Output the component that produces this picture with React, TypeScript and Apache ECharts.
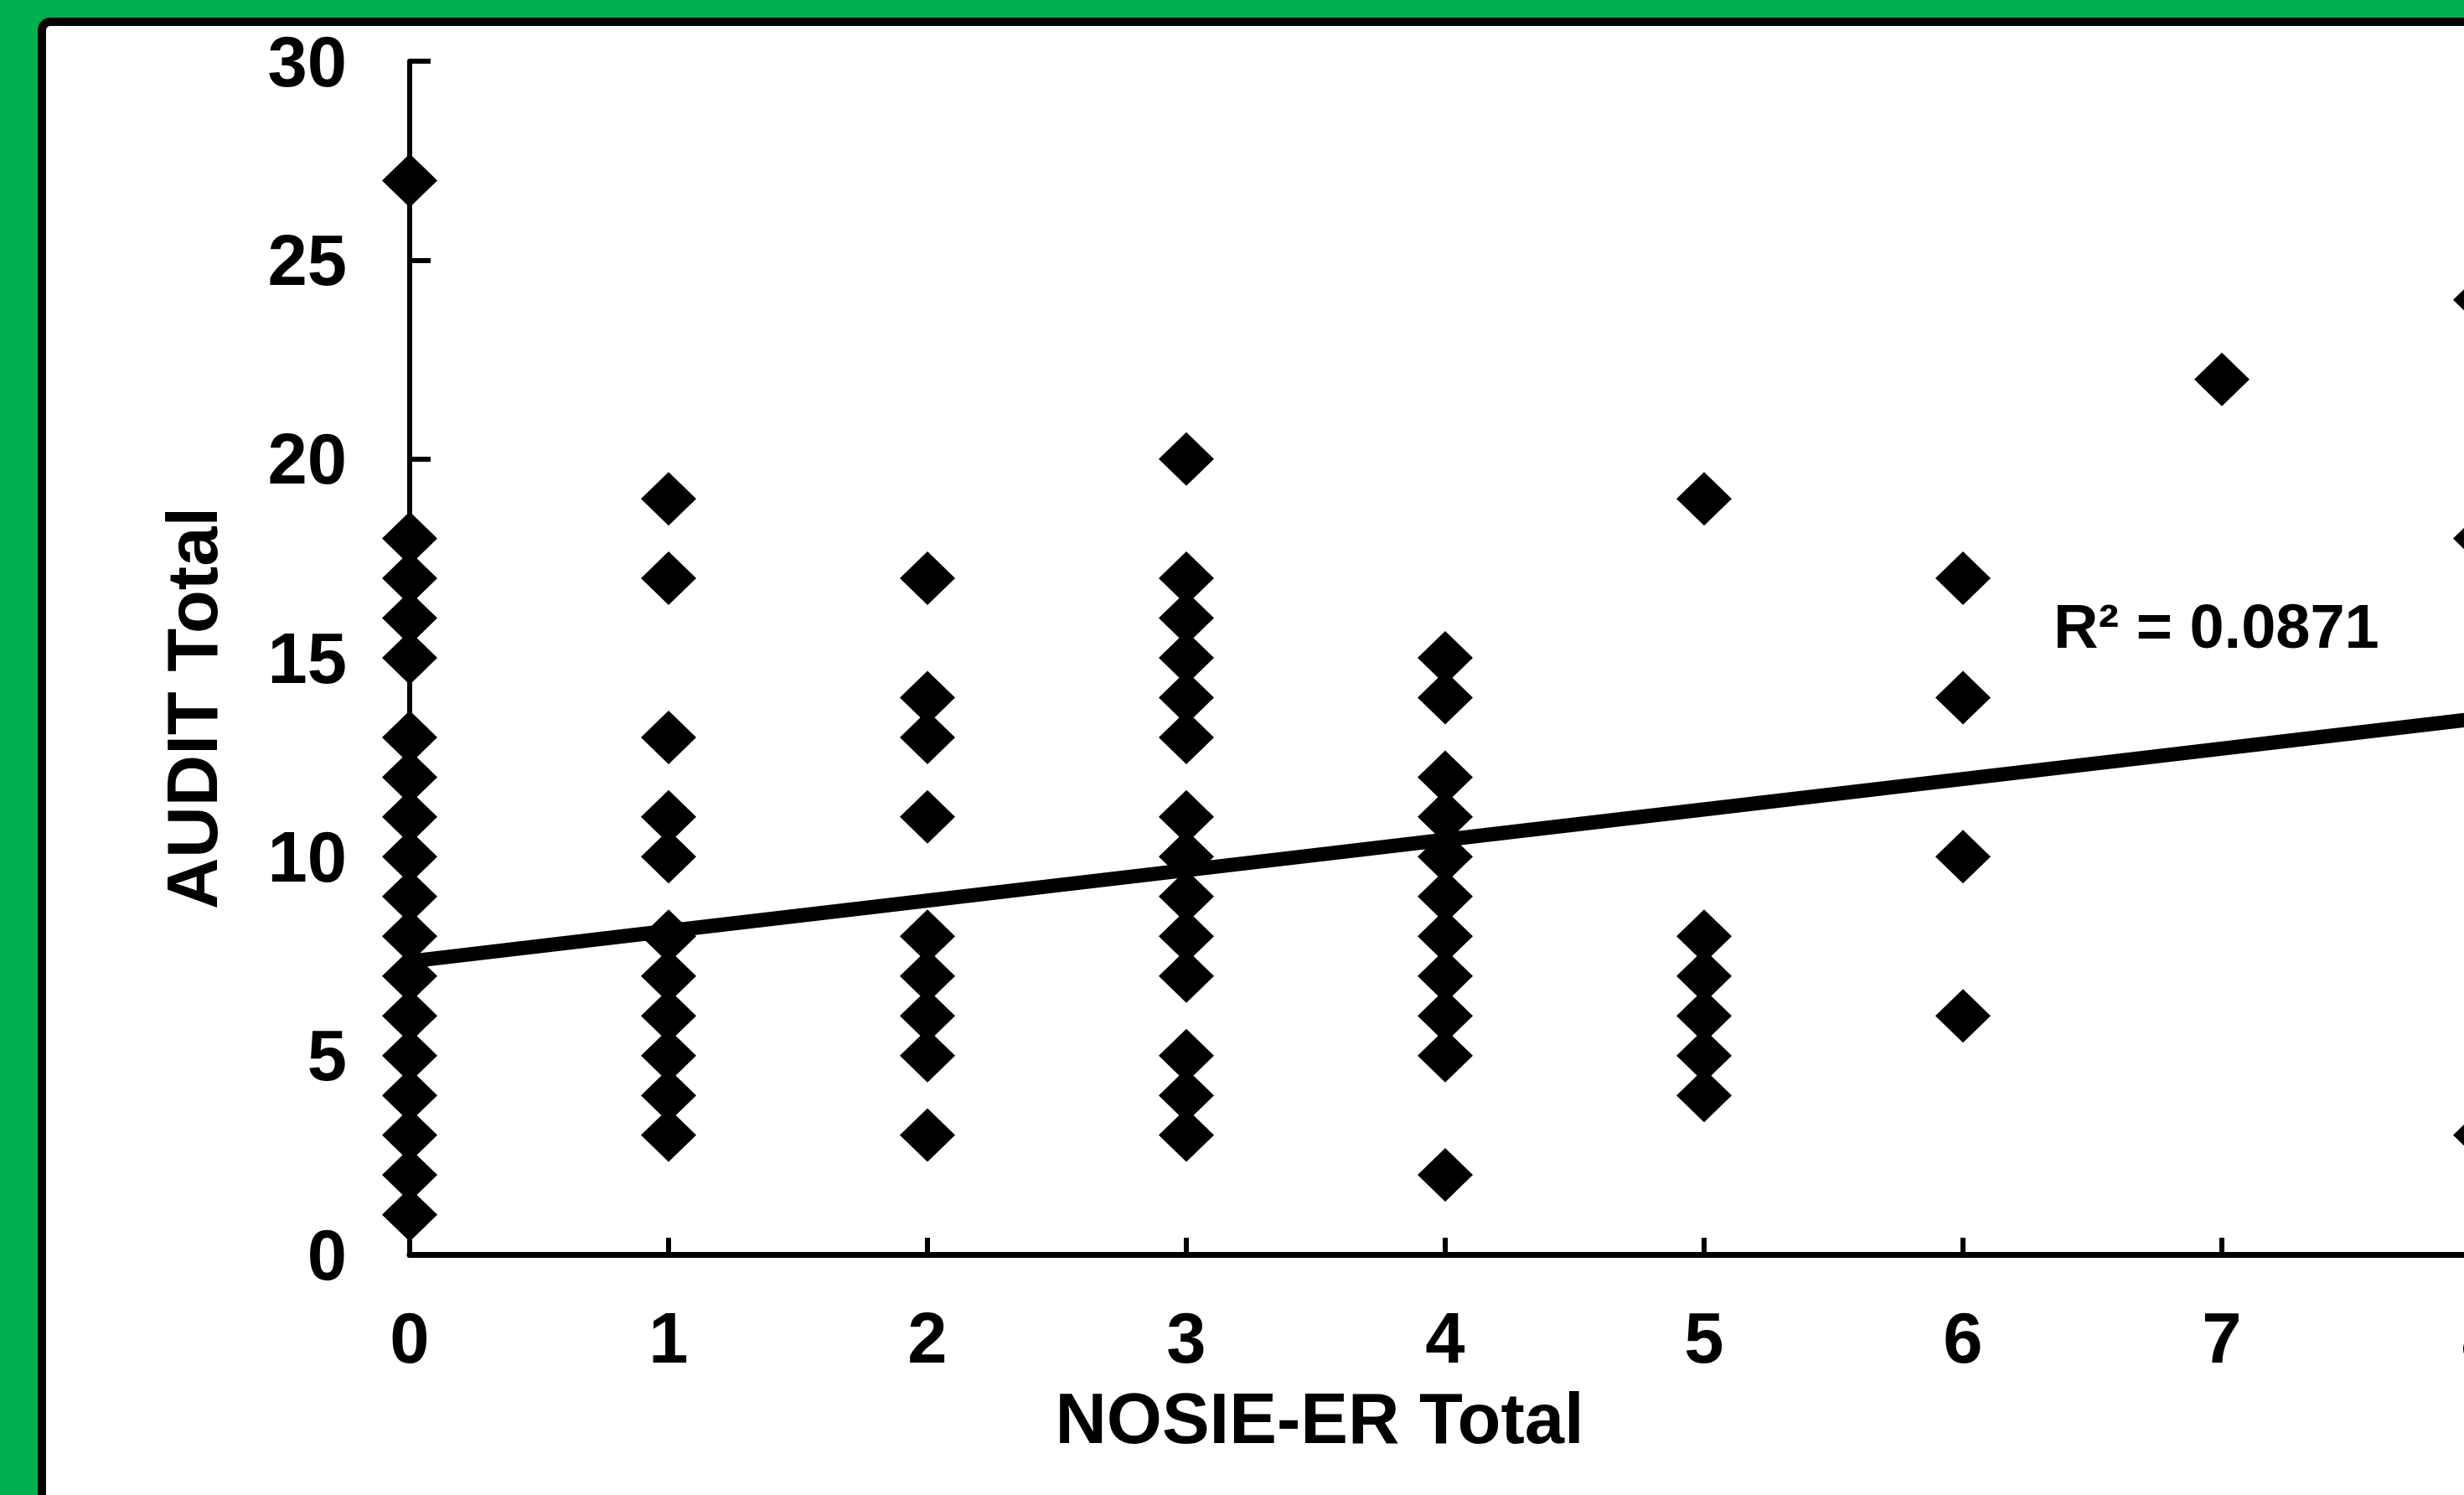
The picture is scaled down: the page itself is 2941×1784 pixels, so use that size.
import React, { useEffect, useRef } from "react";
import * as echarts from "echarts";

// NOSIE-ER total (x) and the AUDIT totals observed at each x value
const nosieScores = [0, 1, 2, 3, 4, 5, 6, 7, 8];
const auditAt0 = [27, 18, 17, 16, 15, 13, 12, 11, 10, 9, 8, 7, 6, 5, 4, 3, 2, 1];
const auditAt1 = [19, 17, 13, 11, 10, 8, 7, 6, 5, 4, 3];
const auditAt2 = [17, 14, 13, 11, 8, 7, 6, 5, 3];
const auditAt3 = [20, 17, 16, 15, 14, 13, 11, 10, 9, 8, 7, 5, 4, 3];
const auditAt4 = [15, 14, 12, 11, 10, 9, 8, 7, 6, 5, 2];
const auditAt5 = [19, 8, 7, 6, 5, 4];
const auditAt6 = [17, 14, 10, 6];
const auditAt7 = [22];
const auditAt8 = [24, 18, 3];
const auditColumns = [auditAt0, auditAt1, auditAt2, auditAt3, auditAt4, auditAt5, auditAt6, auditAt7, auditAt8];

// Linear trendline
const trendX = [0, 10];
const trendY = [7.37, 15.01];
const rSquaredLabel = "R² = 0.0871";

// Axis ticks
const yTicks = [0, 5, 10, 15, 20, 25, 30];
const xAxisMax = 10;

const FONT = "'Liberation Sans', Arial, Helvetica, sans-serif";

export default function App() {
  const ref = useRef<HTMLDivElement>(null);

  useEffect(() => {
    if (!ref.current) return;
    const chart = echarts.init(ref.current, undefined, { renderer: "svg" });

    const points: number[][] = [];
    nosieScores.forEach((x, i) => {
      auditColumns[i].forEach((y) => points.push([x, y]));
    });
    const trend = trendX.map((x, i) => [x, trendY[i]]);

    const gridLeft = 489;
    const gridTop = 73;
    const unitX = 309;
    const gridHeight = 1424;

    chart.setOption({
      animation: false,
      backgroundColor: "#00B050",
      graphic: [
        {
          type: "rect",
          z: -100,
          shape: { x: 50, y: 26, width: 4200, height: 2400, r: 10 },
          style: { fill: "#ffffff", stroke: "#000000", lineWidth: 10 },
        },
        {
          type: "text",
          z: 100,
          x: 1575,
          y: 1692,
          style: {
            text: "NOSIE-ER Total",
            font: `bold 85px ${FONT}`,
            fill: "#000",
            align: "center",
            verticalAlign: "middle",
          },
        },
        {
          type: "text",
          z: 100,
          x: 229,
          y: 845,
          rotation: Math.PI / 2,
          style: {
            text: "AUDIT Total",
            font: `bold 85px ${FONT}`,
            fill: "#000",
            align: "center",
            verticalAlign: "middle",
          },
        },
        {
          type: "text",
          z: 100,
          x: 2451,
          y: 747,
          style: {
            text: rSquaredLabel,
            font: `bold 74px ${FONT}`,
            fill: "#000",
            align: "left",
            verticalAlign: "middle",
          },
        },
      ],
      grid: {
        left: gridLeft,
        top: gridTop,
        width: unitX * xAxisMax,
        height: gridHeight,
        containLabel: false,
      },
      xAxis: {
        type: "value",
        min: 0,
        max: xAxisMax,
        interval: 1,
        axisLine: { show: true, onZero: false, lineStyle: { color: "#000", width: 7 } },
        axisTick: { show: true, inside: true, length: 20, lineStyle: { color: "#000", width: 6 } },
        axisLabel: {
          show: true,
          margin: 57,
          color: "#000",
          fontSize: 85,
          fontWeight: "bold",
          fontFamily: FONT,
        },
        splitLine: { show: false },
      },
      yAxis: {
        type: "value",
        min: 0,
        max: 30,
        interval: 5,
        axisLine: { show: true, onZero: false, lineStyle: { color: "#000", width: 6 } },
        axisTick: { show: true, inside: true, length: 25, lineStyle: { color: "#000", width: 6 } },
        axisLabel: {
          show: true,
          margin: 75,
          color: "#000",
          fontSize: 85,
          fontWeight: "bold",
          fontFamily: FONT,
          formatter: (v: number) => (yTicks.includes(v) ? String(v) : ""),
        },
        splitLine: { show: false },
      },
      series: [
        {
          type: "scatter",
          data: points,
          symbol: "diamond",
          symbolSize: [66, 64],
          itemStyle: { color: "#000", opacity: 1 },
          clip: false,
          z: 3,
        },
        {
          type: "line",
          data: trend,
          showSymbol: false,
          symbol: "none",
          lineStyle: { color: "#000", width: 17 },
          z: 4,
        },
      ],
    });

    return () => chart.dispose();
  }, []);

  return (
    <div
      style={{
        position: "fixed",
        left: 0,
        top: 0,
        width: 2941,
        height: 1784,
        overflow: "hidden",
        background: "#00B050",
      }}
    >
      <div ref={ref} style={{ width: 4000, height: 1784 }} />
    </div>
  );
}
